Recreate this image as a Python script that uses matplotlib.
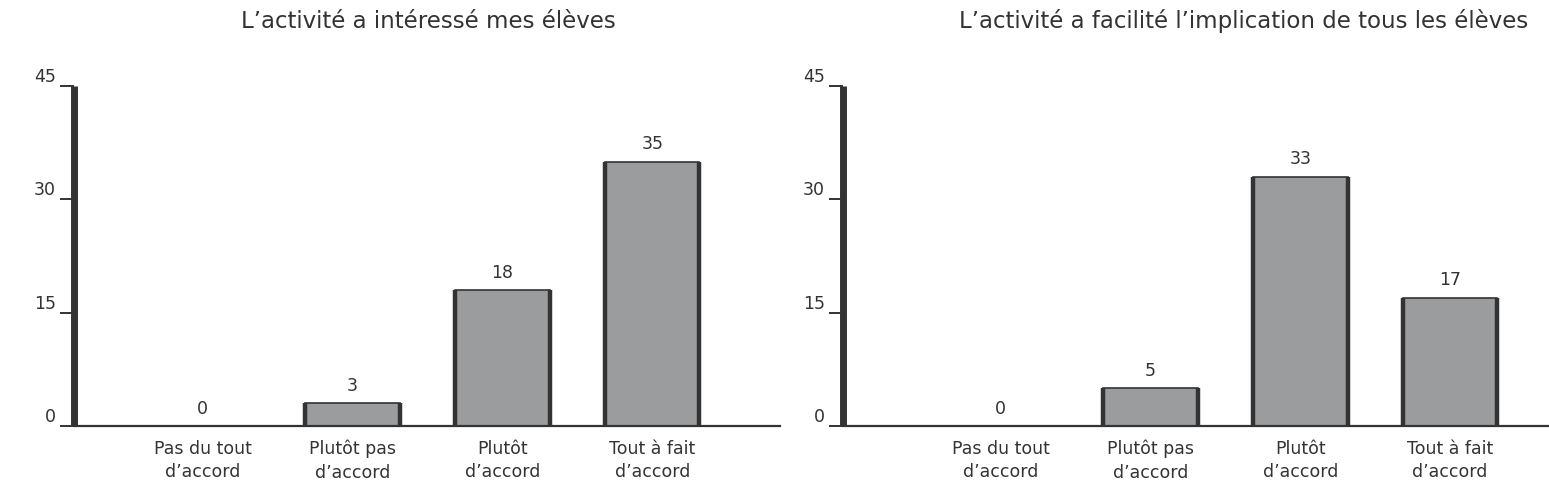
import matplotlib
matplotlib.use('Agg')
import matplotlib.pyplot as plt
import numpy as np

plt.rcParams['font.family'] = ['DejaVu Sans']

# data
categories = ["Pas du tout\nd\u2019accord", "Plut\u00f4t pas\nd\u2019accord",
              "Plut\u00f4t\nd\u2019accord", "Tout \u00e0 fait\nd\u2019accord"]
interet = [0, 3, 18, 35]
implication = [0, 5, 33, 17]
titles = ["L\u2019activit\u00e9 a int\u00e9ress\u00e9 mes \u00e9l\u00e8ves",
          "L\u2019activit\u00e9 a facilit\u00e9 l\u2019implication de tous les \u00e9l\u00e8ves"]
yticks = [0, 15, 30, 45]

TXT = '#333333'
DARK = '#333333'
FILL = '#9b9c9e'

fig = plt.figure(figsize=(15.49, 4.90), dpi=100)
W, H = 1549, 490
ax1 = fig.add_axes([74 / W, 64 / H, 706 / W, 340 / H])
ax2 = fig.add_axes([843 / W, 64 / H, 706 / W, 340 / H])


def draw(ax, vals, xlim):
    x = np.arange(len(vals))
    width = 0.63
    ax.bar(x, vals, width=width, color=FILL, edgecolor=DARK, linewidth=1.2, zorder=2)
    # thick dark sides of each bar
    for xi, v in zip(x, vals):
        if v > 0:
            ax.vlines([xi - width / 2, xi + width / 2], 0, v, colors=DARK, linewidth=3.2, zorder=3)
    for xi, v in zip(x, vals):
        ax.annotate(str(v), (xi, v), xytext=(0, 6), textcoords='offset points',
                    ha='center', va='bottom', fontsize=12.5, color=TXT)
    ax.set_xlim(*xlim)
    ax.set_ylim(0, 45)
    ax.set_yticks(yticks)
    ax.set_yticklabels([str(t) for t in yticks], va='bottom')
    ax.tick_params(axis='y', length=10, width=1.4, color=DARK, pad=3, labelsize=12.5, labelcolor=TXT)
    ax.set_xticks(x)
    ax.set_xticklabels(categories, fontsize=12.5, color=TXT, linespacing=1.4)
    ax.tick_params(axis='x', length=0, pad=10)
    for s in ['top', 'right']:
        ax.spines[s].set_visible(False)
    ax.spines['left'].set_linewidth(5)
    ax.spines['left'].set_color(DARK)
    ax.spines['left'].set_capstyle('butt')
    ax.spines['bottom'].set_linewidth(1.6)
    ax.spines['bottom'].set_color(DARK)


draw(ax1, interet, (-0.86, 3.853))
draw(ax2, implication, (-1.053, 3.66))

fig.text(428 / W, 1 - 21 / H, titles[0], ha='center', va='center', fontsize=16.5, color=TXT)
fig.text(1244 / W, 1 - 21 / H, titles[1], ha='center', va='center', fontsize=16.5, color=TXT)

fig.savefig('out.png', dpi=100)
